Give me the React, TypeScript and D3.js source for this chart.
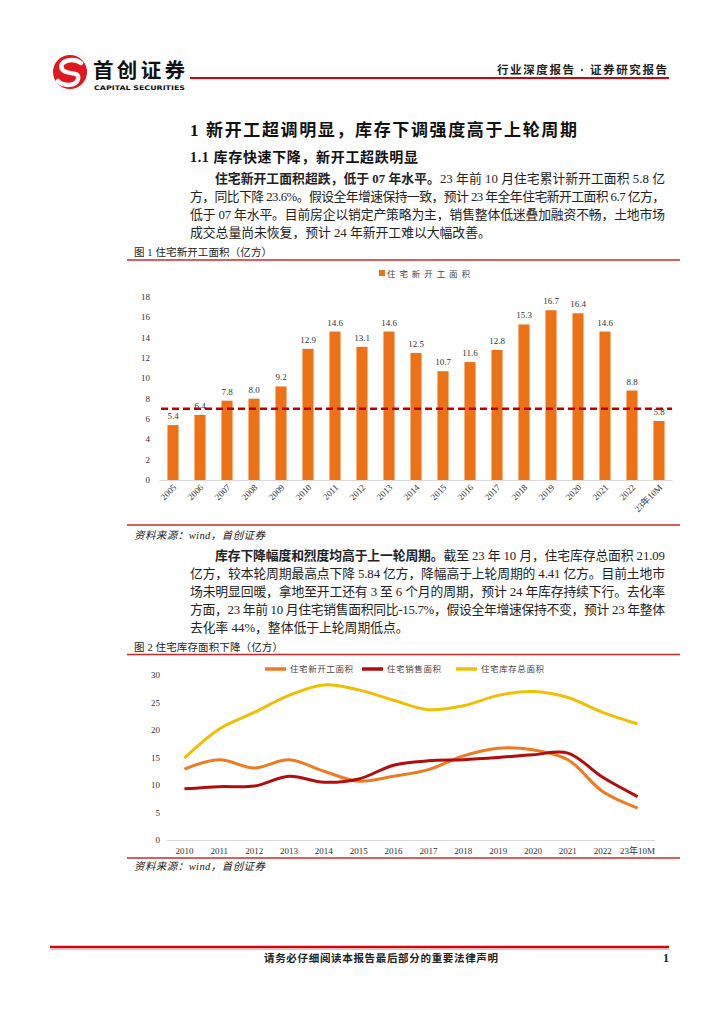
import * as d3 from 'd3';

// ---- data ----
const years = [
  '2005', '2006', '2007', '2008', '2009', '2010', '2011', '2012', '2013', '2014',
  '2015', '2016', '2017', '2018', '2019', '2020', '2021', '2022', '23年10M',
];
const newStarts = [5.4, 6.4, 7.8, 8.0, 9.2, 12.9, 14.6, 13.1, 14.6, 12.5, 10.7, 11.6, 12.8, 15.3, 16.7, 16.4, 14.6, 8.8, 5.8];
const refLevel = 7.0;
const yTicks1 = [0, 2, 4, 6, 8, 10, 12, 14, 16, 18];

const years2 = years.slice(5);
const newStarts2 = newStarts.slice(5);
const sales = [9.3, 9.7, 9.8, 11.6, 10.5, 11.1, 13.6, 14.4, 14.6, 15.0, 15.5, 15.8, 11.4, 7.9];
const inventory = [14.9, 20.2, 23.2, 26.3, 28.2, 27.3, 25.4, 23.7, 24.4, 26.3, 27.0, 25.9, 23.2, 21.1];
const yTicks2 = [0, 5, 10, 15, 20, 25, 30];

const series2 = [
  { id: 'starts', label: '住宅新开工面积', color: '#EE7A22', values: newStarts2 },
  { id: 'sales', label: '住宅销售面积', color: '#B30C0C', values: sales },
  { id: 'inv', label: '住宅库存总面积', color: '#F2BF00', values: inventory },
];

type Seg = { t: string; b?: boolean };
const para1: { segs: Seg[]; x: number; w?: number }[] = [
  { x: 215, w: 450, segs: [{ t: '住宅新开工面积超跌，低于 07 年水平。', b: true }, { t: '23 年前 10 月住宅累计新开工面积 5.8 亿' }] },
  { x: 190, w: 475, segs: [{ t: '方，同比下降 23.6%。假设全年增速保持一致，预计 23 年全年住宅新开工面积 6.7 亿方，' }] },
  { x: 190, w: 475, segs: [{ t: '低于  07 年水平。目前房企以销定产策略为主，销售整体低迷叠加融资不畅，土地市场' }] },
  { x: 190, segs: [{ t: '成交总量尚未恢复，预计 24 年新开工难以大幅改善。' }] },
];
const para2: { segs: Seg[]; x: number; w?: number }[] = [
  { x: 215, w: 450, segs: [{ t: '库存下降幅度和烈度均高于上一轮周期。', b: true }, { t: '截至 23 年 10 月，住宅库存总面积 21.09' }] },
  { x: 190, w: 475, segs: [{ t: '亿方，较本轮周期最高点下降 5.84 亿方，降幅高于上轮周期的 4.41 亿方。目前土地市' }] },
  { x: 190, w: 475, segs: [{ t: '场未明显回暖，拿地至开工还有 3 至 6 个月的周期，预计 24 年库存持续下行。去化率' }] },
  { x: 190, w: 475, segs: [{ t: '方面，23 年前 10 月住宅销售面积同比-15.7%，假设全年增速保持不变，预计 23 年整体' }] },
  { x: 190, segs: [{ t: '去化率 44%，整体低于上轮周期低点。' }] },
];

const FONT = "'Liberation Serif', 'Noto Sans CJK SC', serif";
const RED = '#CC2A2A';
const BAR = '#EC7117';

function Paragraph({ lines, y0 }: { lines: { segs: Seg[]; x: number; w?: number }[]; y0: number }) {
  return (
    <g fontFamily={FONT} fontSize={12.8} fill="#222">
      {lines.map((l, i) => (
        <text
          key={i}
          x={l.x}
          y={y0 + i * 18}
          textLength={l.w}
          lengthAdjust={l.w ? 'spacing' : undefined}
        >
          {l.segs.map((s, j) => (
            <tspan key={j} fontWeight={s.b ? 'bold' : 'normal'}>{s.t}</tspan>
          ))}
        </text>
      ))}
    </g>
  );
}

function BarChart() {
  const x = d3.scaleBand<string>().domain(years).range([159.5, 672.5]).paddingInner(0.59).paddingOuter(0.295);
  const y = d3.scaleLinear().domain([0, 18]).range([480, 297]);
  return (
    <g fontFamily={FONT}>
      {/* legend */}
      <rect x={379} y={270} width={6} height={6} fill={BAR} />
      <text x={387} y={276.5} fontSize={8.5} fill="#444" textLength={83} lengthAdjust="spacing">住宅新开工面积</text>
      {/* y ticks */}
      {yTicks1.map((t) => (
        <text key={t} x={150} y={y(t) + 3} fontSize={9} textAnchor="end" fill="#333">{t}</text>
      ))}
      {/* bars */}
      {years.map((yr, i) => (
        <g key={yr}>
          <rect x={x(yr)!} y={y(newStarts[i])} width={x.bandwidth()} height={y(0) - y(newStarts[i])} fill={BAR} />
          <text x={x(yr)! + x.bandwidth() / 2} y={y(newStarts[i]) - 6} fontSize={9} textAnchor="middle" fill="#333">
            {newStarts[i].toFixed(1)}
          </text>
        </g>
      ))}
      <line x1={159.5} x2={672.5} y1={y(0) + 0.5} y2={y(0) + 0.5} stroke="#D9D9D9" />
      {/* reference level */}
      <line x1={161} x2={672} y1={y(refLevel)} y2={y(refLevel)} stroke="#C00000" strokeWidth={2.5} strokeDasharray="7,4" />
      {/* x labels */}
      {years.map((yr) => {
        const cx = x(yr)! + x.bandwidth() / 2 + 4;
        return (
          <text key={yr} transform={`translate(${cx},488) rotate(-45)`} fontSize={9} textAnchor="end" fill="#333">{yr}</text>
        );
      })}
    </g>
  );
}

function LineChart() {
  const x = d3.scaleBand<string>().domain(years2).range([167, 655]);
  const cx = (d: string) => x(d)! + x.bandwidth() / 2;
  const y = d3.scaleLinear().domain([0, 30]).range([840, 675]);
  const line = d3
    .line<number>()
    .x((_, i) => cx(years2[i]))
    .y((d) => y(d))
    .curve(d3.curveCatmullRom.alpha(0.5));
  const legendX = [265, 362, 456];
  return (
    <g fontFamily={FONT}>
      {series2.map((s, i) => (
        <g key={s.id}>
          <line x1={legendX[i]} x2={legendX[i] + 21} y1={669} y2={669} stroke={s.color} strokeWidth={3.5} />
          <text x={legendX[i] + 25} y={672} fontSize={8.5} fill="#444" textLength={s.label.length * 9} lengthAdjust="spacing">{s.label}</text>
        </g>
      ))}
      {yTicks2.map((t) => (
        <text key={t} x={160} y={y(t) + 3} fontSize={9} textAnchor="end" fill="#333">{t}</text>
      ))}
      <line x1={167} x2={655} y1={y(0) + 0.5} y2={y(0) + 0.5} stroke="#D9D9D9" />
      {years2.map((yr) => (
        <text key={yr} x={cx(yr)} y={854} fontSize={9} textAnchor="middle" fill="#333">{yr}</text>
      ))}
      {series2.map((s) => (
        <path key={s.id} d={line(s.values) ?? ''} fill="none" stroke={s.color} strokeWidth={3} strokeLinejoin="round" />
      ))}
    </g>
  );
}

export default function App() {
  return (
    <div style={{ position: 'absolute', left: 0, top: 0 }}>
      <svg width={724} height={1024} style={{ display: 'block', background: '#fff' }}>
        {/* header */}
        <circle cx={70} cy={72} r={17} fill="#E1161E" />
        <path d="M81,63 C73,57 58,61 62,69 C66,76 80,70 78,79 C76,87 63,86 58,81" fill="none" stroke="#fff" strokeWidth={4.5} strokeLinecap="round" />
        <text x={93} y={78} fontFamily="'Noto Sans CJK SC', sans-serif" fontWeight="bold" fontSize={20.5} fill="#111" textLength={92} lengthAdjust="spacing">首创证券</text>
        <text x={94} y={89.5} fontFamily="'DejaVu Sans', sans-serif" fontWeight="bold" fontSize={6.3} fill="#111" textLength={91} lengthAdjust="spacingAndGlyphs">CAPITAL SECURITIES</text>
        <line x1={190} x2={669} y1={78} y2={78} stroke="#D7000F" strokeWidth={2.2} />
        <text x={497} y={74} fontFamily={FONT} fontWeight="bold" fontSize={11.5} fill="#222" textLength={170} lengthAdjust="spacing">行业深度报告 · 证券研究报告</text>

        {/* headings */}
        <text x={190} y={136} fontFamily={FONT} fontWeight="bold" fontSize={17} fill="#111" textLength={387} lengthAdjust="spacing">1 新开工超调明显，库存下调强度高于上轮周期</text>
        <text x={190} y={162} fontFamily={FONT} fontWeight="bold" fontSize={14} fill="#111" textLength={228} lengthAdjust="spacing">1.1 库存快速下降，新开工超跌明显</text>

        <Paragraph lines={para1} y0={182.5} />

        {/* figure 1 */}
        <text x={134} y={256} fontFamily={FONT} fontSize={10.5} fill="#222" textLength={138} lengthAdjust="spacing">图 1 住宅新开工面积（亿方）</text>
        <line x1={127} x2={680} y1={260} y2={260} stroke={RED} strokeWidth={1.5} />
        <BarChart />
        <line x1={127} x2={680} y1={525} y2={525} stroke={RED} strokeWidth={1.5} />
        <text x={134} y={539} fontFamily={FONT} fontStyle="italic" fontSize={10.5} fill="#222" textLength={131} lengthAdjust="spacing">资料来源：wind，首创证券</text>

        <Paragraph lines={para2} y0={559.5} />

        {/* figure 2 */}
        <text x={134} y={651} fontFamily={FONT} fontSize={10.5} fill="#222" textLength={149} lengthAdjust="spacing">图 2 住宅库存面积下降（亿方）</text>
        <line x1={127} x2={680} y1={654.5} y2={654.5} stroke={RED} strokeWidth={1.5} />
        <LineChart />
        <line x1={127} x2={680} y1={858} y2={858} stroke={RED} strokeWidth={1.5} />
        <text x={134} y={870} fontFamily={FONT} fontStyle="italic" fontSize={10.5} fill="#222" textLength={131} lengthAdjust="spacing">资料来源：wind，首创证券</text>

        {/* footer */}
        <line x1={50} x2={669} y1={947} y2={947} stroke="#D7000F" strokeWidth={2.5} />
        <line x1={50} x2={669} y1={949.5} y2={949.5} stroke="#E88" strokeWidth={0.6} />
        <text x={264} y={962} fontFamily={FONT} fontWeight="bold" fontSize={10.5} fill="#222" textLength={234} lengthAdjust="spacing">请务必仔细阅读本报告最后部分的重要法律声明</text>
        <text x={669} y={962} fontFamily={FONT} fontWeight="bold" fontSize={12} textAnchor="end" fill="#222">1</text>
      </svg>
    </div>
  );
}
